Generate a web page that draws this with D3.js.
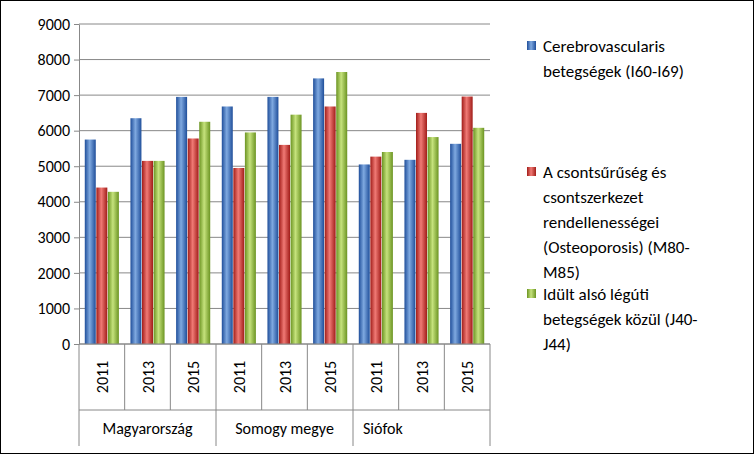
<!DOCTYPE html>
<html><head><meta charset="utf-8">
<script src="https://cdn.jsdelivr.net/npm/d3@7"></script>
<style>body{margin:0;background:#fff}text{font-family:Calibri,Carlito,"Liberation Sans",sans-serif}</style>
</head><body><svg id="c" width="754" height="454"></svg>
<script>
var regions = ["Magyarország", "Somogy megye", "Siófok"];
var years = ["2011", "2013", "2015"];
var cerebro = [5750, 6350, 6950, 6680, 6950, 7470, 5050, 5180, 5630];
var osteo = [4400, 5150, 5780, 4950, 5600, 6680, 5270, 6500, 6960];
var idult = [4280, 5150, 6250, 5950, 6450, 7650, 5400, 5820, 6080];
var series = [
  {name: ["Cerebrovascularis", "betegségek (I60-I69)"], values: cerebro, c1: "#7fa9e0", c2: "#1f4e9a"},
  {name: ["A csontsűrűség és", "csontszerkezet", "rendellenességei", "(Osteoporosis) (M80-", "M85)"], values: osteo, c1: "#f07a75", c2: "#a11c18"},
  {name: ["Idült alsó légúti", "betegségek közül (J40-", "J44)"], values: idult, c1: "#c5e27c", c2: "#6b9422"}
];

var svg = d3.select("#c");
svg.append("rect").attr("x", 0.5).attr("y", 0.5).attr("width", 753).attr("height", 453)
  .attr("fill", "#fff").attr("stroke", "#000");

var defs = svg.append("defs");
series.forEach(function(s, i) {
  var g = defs.append("linearGradient").attr("id", "g" + i);
  g.append("stop").attr("offset", "0%").attr("stop-color", s.c2);
  g.append("stop").attr("offset", "45%").attr("stop-color", s.c1);
  g.append("stop").attr("offset", "100%").attr("stop-color", s.c2);
});

var pLeft = 79, pRight = 490, pTop = 24, pBottom = 344;
var cats = d3.range(9);
var x = d3.scaleBand().domain(cats).range([pLeft, pRight]);
var y = d3.scaleLinear().domain([0, 9000]).range([pBottom, pTop]);
var x1 = d3.scaleBand().domain([0, 1, 2]).range([0, x.bandwidth()]).paddingInner(0.05).paddingOuter(0.5);

svg.append("g").selectAll("line").data(y.ticks(9)).enter().append("line")
  .attr("x1", pLeft).attr("x2", pRight).attr("y1", y).attr("y2", y)
  .attr("stroke", "#888");

var ax = svg.append("g").attr("transform", "translate(" + pLeft + ",0)")
  .call(d3.axisLeft(y).ticks(9).tickSize(5).tickSizeOuter(0).tickPadding(4).tickFormat(d3.format("d")));
ax.select(".domain").attr("stroke", "#888");
ax.selectAll(".tick line").attr("stroke", "#888");
ax.selectAll("text").attr("font-size", 16).attr("fill", "#000");

series.forEach(function(s, i) {
  svg.append("g").selectAll("rect").data(s.values).enter().append("rect")
    .attr("x", function(d, j) { return x(j) + x1(i); })
    .attr("y", y).attr("width", x1.bandwidth())
    .attr("height", function(d) { return pBottom - y(d); })
    .attr("fill", "url(#g" + i + ")");
});

// category axis
var cat = svg.append("g").attr("stroke", "#888");
cat.append("line").attr("x1", pLeft).attr("x2", pRight).attr("y1", pBottom).attr("y2", pBottom);
d3.range(10).forEach(function(k) {
  var xx = pLeft + k * x.bandwidth();
  var big = k % 3 === 0;
  cat.append("line").attr("x1", xx).attr("x2", xx).attr("y1", pBottom).attr("y2", big ? 446 : 410);
});
cat.append("line").attr("x1", pLeft).attr("x2", pRight).attr("y1", 410).attr("y2", 410);
cats.forEach(function(j) {
  var cx = x(j) + x.bandwidth() / 2;
  svg.append("text").attr("transform", "translate(" + (cx + 6) + ",377) rotate(-90)")
    .attr("text-anchor", "middle").attr("font-size", 16).text(years[j % 3]);
});
regions.forEach(function(r, k) {
  var cx = x(k * 3) + x.bandwidth() * 1.5;
  svg.append("text").attr("x", k === 2 ? x(k * 3) + 10 : cx).attr("y", 434)
    .attr("text-anchor", k === 2 ? "start" : "middle").attr("font-size", 16).text(r);
});

// legend
var ly = [40, 166, 288];
series.forEach(function(s, i) {
  svg.append("rect").attr("x", 527).attr("y", ly[i] + 1).attr("width", 9).attr("height", 9)
    .attr("fill", "url(#g" + i + ")");
  s.name.forEach(function(t, k) {
    svg.append("text").attr("x", 543).attr("y", ly[i] + 12 + k * 25).attr("font-size", 17).text(t);
  });
});
</script></body></html>
